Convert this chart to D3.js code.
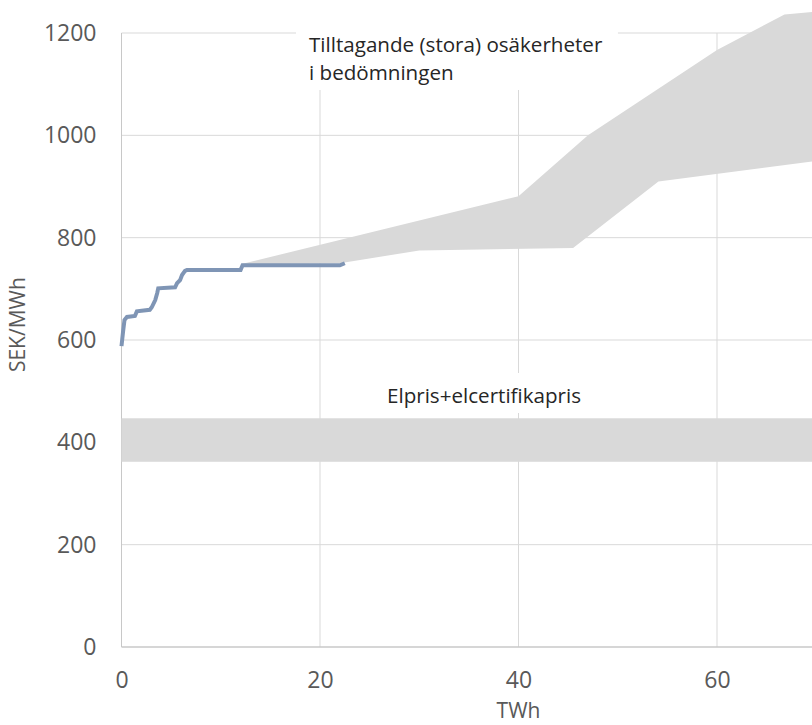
<!DOCTYPE html>
<html>
<head>
<meta charset="utf-8">
<script src="https://cdn.jsdelivr.net/npm/d3@7"></script>
<style>
  body { margin: 0; background: #fff; }
  svg { display: block; font-family: "Open Sans", sans-serif; }
  .axis text { fill: #595959; font-size: 23px; }
  .axis-title { fill: #595959; font-size: 21px; }
  .note { fill: #262626; font-size: 20.6px; }
</style>
</head>
<body>
<svg id="chart" width="812" height="725"></svg>
<script>
const xTicks = [0, 20, 40, 60];
const yTicks = [0, 200, 400, 600, 800, 1000, 1200];

// cost curve (steps), TWh vs SEK/MWh
const curveTWh = [0, 0.15, 0.3, 0.55, 1.35, 1.55, 2.85, 3.05, 3.4, 3.6, 3.7, 5.4, 5.6, 5.9, 6.1, 6.4, 6.6, 12, 12.2, 22, 22.5];
const curveSEK = [588, 615, 639, 645, 647, 656, 659, 664, 678, 692, 701, 703, 711, 717, 727, 735, 737, 737, 746, 746, 750];

// growing uncertainty area
const upperTWh = [12, 40, 47, 60, 66.8, 70];
const upperSEK = [748, 881, 1000, 1167, 1236, 1242];
const lowerTWh = [12, 22, 30, 45.5, 54.1, 70];
const lowerSEK = [748, 750, 775, 780, 910, 950];

// elpris + elcertifikatpris band
const priceLow = 362;
const priceHigh = 447;
const xMax = 70;

const svg = d3.select("#chart");
const width = +svg.attr("width");
const height = +svg.attr("height");

const x = d3.scaleLinear().domain([0, 60]).range([121.5, 717]);
const y = d3.scaleLinear().domain([0, 1200]).range([647, 33]);

// gridlines
const grid = svg.append("g");
grid.selectAll(".hgrid")
  .data(yTicks.slice(1))
  .join("line")
  .attr("x1", x(0)).attr("x2", width)
  .attr("y1", d => y(d)).attr("y2", d => y(d))
  .attr("stroke", "#d9d9d9").attr("stroke-width", 1);

grid.selectAll(".vgrid")
  .data(xTicks)
  .join("line")
  .attr("x1", d => x(d)).attr("x2", d => x(d))
  .attr("y1", y(0)).attr("y2", y(1200))
  .attr("stroke", d => d === 0 ? "#c8c8c8" : "#d9d9d9").attr("stroke-width", 1);

grid.append("line")
  .attr("x1", x(0)).attr("x2", width)
  .attr("y1", y(0)).attr("y2", y(0))
  .attr("stroke", "#c8c8c8").attr("stroke-width", 1.3);

// price band
svg.append("rect")
  .attr("x", x(0))
  .attr("y", y(priceHigh))
  .attr("width", x(xMax) - x(0))
  .attr("height", y(priceLow) - y(priceHigh))
  .attr("fill", "#d9d9d9");

// uncertainty area
const poly = upperTWh.map((d, i) => [x(d), y(upperSEK[i])])
  .concat(lowerTWh.map((d, i) => [x(d), y(lowerSEK[i])]).reverse());
svg.append("path")
  .attr("d", d3.line()(poly) + "Z")
  .attr("fill", "#d9d9d9");

// cost curve
const curve = curveTWh.map((d, i) => [d, curveSEK[i]]);
svg.append("path")
  .datum(curve)
  .attr("fill", "none")
  .attr("stroke", "#7f95b5")
  .attr("stroke-width", 4)
  .attr("stroke-linejoin", "miter")
  .attr("d", d3.line().x(d => x(d[0])).y(d => y(d[1])));

// axes (labels only)
svg.append("g")
  .attr("class", "axis")
  .attr("transform", `translate(${x(0)},0)`)
  .call(d3.axisLeft(y).tickValues(yTicks).tickFormat(d3.format("d")).tickSize(0).tickPadding(25))
  .call(g => g.select(".domain").remove());

svg.append("g")
  .attr("class", "axis")
  .attr("transform", `translate(0,${y(0)})`)
  .call(d3.axisBottom(x).tickValues(xTicks).tickFormat(d3.format("d")).tickSize(0).tickPadding(25))
  .call(g => g.select(".domain").remove());

svg.selectAll(".axis").attr("font-family", null).attr("font-size", null);

svg.append("text")
  .attr("class", "axis-title")
  .attr("x", x(40))
  .attr("y", 718)
  .attr("text-anchor", "middle")
  .text("TWh");

svg.append("text")
  .attr("class", "axis-title")
  .attr("transform", `translate(25, ${y(630)}) rotate(-90)`)
  .attr("text-anchor", "middle")
  .text("SEK/MWh");

// notes with white boxes
function note(lines, px, py, lh) {
  const g = svg.append("g");
  const box = g.append("rect").attr("fill", "#fff");
  const t = g.append("text").attr("class", "note");
  lines.forEach((s, i) => {
    t.append("tspan").attr("x", px).attr("y", py + i * lh).text(s);
  });
  const b = t.node().getBBox();
  box.attr("x", b.x - 13).attr("y", b.y - 8)
    .attr("width", b.width + 28).attr("height", b.height + 12);
}

note(["Tilltagande (stora) osäkerheter", "i bedömningen"], 309, 52, 28);
note(["Elpris+elcertifikapris"], 387, 403, 28);
</script>
</body>
</html>
